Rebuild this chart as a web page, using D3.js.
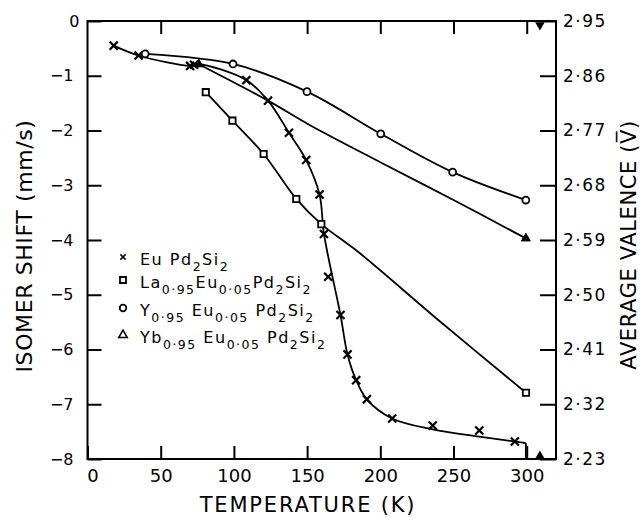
<!DOCTYPE html>
<html>
<head>
<meta charset="utf-8">
<script src="https://cdn.jsdelivr.net/npm/d3@7"></script>
<style>
body{margin:0;background:#fff}
</style>
</head>
<body>
<div id="canvas"></div>
<script>
"use strict"

// axis ticks
let tempTicks=[0,50,100,150,200,250,300]
let shiftTicks=[0,-1,-2,-3,-4,-5,-6,-7,-8]
let valenceTicks=[2.95,2.86,2.77,2.68,2.59,2.50,2.41,2.32,2.23]

// measured points [T (K), isomer shift (mm/s)]
let euPoints=[[17.9,-0.45],[34.9,-0.63],[70.1,-0.82],[72.8,-0.80],[108.5,-1.08],[123.3,-1.455],[137.6,-2.04],[149.4,-2.54],[158.5,-3.17],[161.5,-3.89],[164.4,-4.67],[172.8,-5.37],[177.6,-6.09],[183.5,-6.56],[190.8,-6.91],[208.1,-7.26],[235.8,-7.39],[267.6,-7.48],[291.9,-7.68]]
let laPoints=[[80.8,-1.30],[99,-1.82],[120.3,-2.43],[142.6,-3.25],[159.7,-3.71],[299.5,-6.79]]
let yPoints=[[39.4,-0.60],[99.4,-0.785],[149.9,-1.29],[200.3,-2.06],[249.4,-2.76],[299.4,-3.27]]
let ybPoints=[[76,-0.79],[299.4,-3.97]]

// hand drawn curves
let euCurve=[[17.9,-0.45],[34.9,-0.63],[70.1,-0.82],[76,-0.79],[108.5,-1.08],[123.3,-1.455],[137.6,-2.04],[149.4,-2.54],[158.5,-3.17],[161.5,-3.89],[172.8,-5.37],[177.6,-6.09],[183.5,-6.56],[190.8,-6.91],[208.1,-7.26],[235.8,-7.46],[267.6,-7.59],[291.9,-7.68],[299.4,-7.71]]
let euDrop=[[299.4,-7.71],[299.4,-8]]
let laCurve=[[80.8,-1.30],[99,-1.82],[120.3,-2.43],[142.6,-3.25],[159.7,-3.71],[185,-4.22],[240,-5.47],[299.5,-6.79]]
let yCurve=[[39.4,-0.60],[99.4,-0.785],[149.9,-1.29],[200.3,-2.06],[249.4,-2.76],[299.4,-3.27]]
let ybCurve=[[76,-0.79],[123.3,-1.455],[151.7,-1.9],[200,-2.58],[250,-3.27],[299.4,-3.97]]

// filled reference marks at the right edge
let refMarks=[[309,0,"down"],[309,-8,"up"]]

// legend
let legendShapes=["x","square","circle","triangle"]
let legendLabels=[
    [["Eu Pd",0],["2",1],["Si",0],["2",1]],
    [["La",0],["0·95",1],["Eu",0],["0·05",1],["Pd",0],["2",1],["Si",0],["2",1]],
    [["Y",0],["0·95",1],[" Eu",0],["0·05",1],[" Pd",0],["2",1],["Si",0],["2",1]],
    [["Yb",0],["0·95",1],[" Eu",0],["0·05",1],[" Pd",0],["2",1],["Si",0],["2",1]]
]

let svgWidth=642
let svgHeight=518
let font="DejaVu Sans"

let drawing=d3.select("#canvas")
    .append("svg")
    .attr("width",svgWidth)
    .attr("height",svgHeight)
    .style("font-family",font)

let x=d3.scaleLinear().domain([0,320]).range([87.5,556])
let y=d3.scaleLinear().domain([0,-8]).range([21,459])
let yVal=d3.scaleLinear().domain([2.95,2.23]).range([21,459])

function styleAxis(g,size){
    g.select(".domain").remove()
    g.selectAll(".tick line").attr("stroke","black").attr("stroke-width",2)
    g.selectAll(".tick text").attr("fill","black").style("font-size",size+"px").style("font-family",font)
}

let leftAxis=drawing.append("g")
    .attr("transform","translate(87.5,0)")
    .call(d3.axisLeft(y).tickValues(shiftTicks).tickSize(-14).tickPadding(14)
        .tickFormat(d=>d===0?"0":"−"+Math.abs(d)))
styleAxis(leftAxis,16)
leftAxis.selectAll(".tick text").filter(d=>d===0).attr("x",-8)

let bottomAxis=drawing.append("g")
    .attr("transform","translate(0,459)")
    .call(d3.axisBottom(x).tickValues(tempTicks).tickSize(-13).tickPadding(10))
styleAxis(bottomAxis,18)
bottomAxis.selectAll(".tick text").filter(d=>d===0).attr("x",5)

let topAxis=drawing.append("g")
    .attr("transform","translate(0,21)")
    .call(d3.axisTop(x).tickValues(tempTicks.slice(1)).tickSize(-13).tickFormat(""))
styleAxis(topAxis,10)

let rightAxis=drawing.append("g")
    .attr("transform","translate(556,0)")
    .call(d3.axisRight(yVal).tickValues(valenceTicks).tickSize(-16).tickPadding(7)
        .tickFormat(d=>d3.format(".2f")(d).replace(".","·")))
styleAxis(rightAxis,17)
rightAxis.selectAll(".tick text").style("letter-spacing","1.5px")

let frame=drawing.append("rect")
    .attr("x",87.5)
    .attr("y",21)
    .attr("width",556-87.5)
    .attr("height",459-21)
    .attr("fill","none")
    .attr("stroke","black")
    .attr("stroke-width",2)

// curves
let smooth=d3.line().x(d=>x(d[0])).y(d=>y(d[1])).curve(d3.curveCatmullRom.alpha(0.5))
let straight=d3.line().x(d=>x(d[0])).y(d=>y(d[1]))

let curves=[[euCurve,smooth],[euDrop,straight],[laCurve,smooth],[yCurve,smooth],[ybCurve,smooth]]
curves.forEach(c=>{
    drawing.append("path")
        .attr("d",c[1](c[0]))
        .attr("fill","none")
        .attr("stroke","black")
        .attr("stroke-width",1.8)
})

// markers
function marker(g,shape,cx,cy,scale){
    let s=scale||1
    if(shape==="x"){
        g.append("path")
            .attr("transform",`translate(${cx},${cy})`)
            .attr("d",d3.symbol().type(d3.symbolTimes).size(44*s)())
            .attr("fill","none").attr("stroke","black").attr("stroke-width",2.2*Math.sqrt(s))
    }else if(shape==="square"){
        g.append("path")
            .attr("transform",`translate(${cx},${cy})`)
            .attr("d",d3.symbol().type(d3.symbolSquare).size(40*s)())
            .attr("fill","white").attr("stroke","black").attr("stroke-width",1.8)
    }else if(shape==="circle"){
        g.append("path")
            .attr("transform",`translate(${cx},${cy})`)
            .attr("d",d3.symbol().type(d3.symbolCircle).size(38*s)())
            .attr("fill","white").attr("stroke","black").attr("stroke-width",1.8)
    }else if(shape==="triangle"){
        g.append("path")
            .attr("transform",`translate(${cx},${cy})`)
            .attr("d",d3.symbol().type(d3.symbolTriangle).size(34*s)())
            .attr("fill","white").attr("stroke","black").attr("stroke-width",1.6)
    }else if(shape==="solidtri"){
        g.append("path")
            .attr("transform",`translate(${cx},${cy})`)
            .attr("d",d3.symbol().type(d3.symbolTriangle).size(34*s)())
            .attr("fill","black").attr("stroke","black").attr("stroke-width",1)
    }
}

let marks=drawing.append("g")
euPoints.forEach(p=>marker(marks,"x",x(p[0]),y(p[1])))
laPoints.forEach(p=>marker(marks,"square",x(p[0]),y(p[1])))
yPoints.forEach(p=>marker(marks,"circle",x(p[0]),y(p[1])))
ybPoints.forEach(p=>marker(marks,"solidtri",x(p[0]),y(p[1])))

refMarks.forEach(p=>{
    drawing.append("path")
        .attr("transform",`translate(${x(p[0])},${y(p[1])+(p[2]==="down"?4:-3)}) rotate(${p[2]==="down"?180:0})`)
        .attr("d",d3.symbol().type(d3.symbolTriangle).size(40)())
        .attr("fill","black")
})

// legend
let legendBase=[265,288,316,343]
let legend=drawing.append("g")
legendLabels.forEach((parts,i)=>{
    marker(legend,legendShapes[i],123,legendBase[i]-8,legendShapes[i]==="x"?0.45:0.9)
    let t=legend.append("text")
        .attr("x",140)
        .attr("y",legendBase[i])
        .style("font-size","16px")
        .style("letter-spacing","1.5px")
    let level=0
    parts.forEach(p=>{
        let shift=(p[1]-level)*6
        level=p[1]
        t.append("tspan")
            .attr("dy",shift)
            .style("font-size",p[1]?"12.5px":"16px")
            .style("white-space","pre")
            .text(p[0])
    })
})

// axis titles
drawing.append("text")
    .attr("x",308)
    .attr("y",512)
    .attr("text-anchor","middle")
    .style("font-size","21px")
    .style("letter-spacing","1.8px")
    .text("TEMPERATURE (K)")

drawing.append("text")
    .attr("transform","translate(32,246) rotate(-90)")
    .attr("text-anchor","middle")
    .style("font-size","22px")
    .style("letter-spacing","0.6px")
    .text("ISOMER SHIFT (mm/s)")

drawing.append("text")
    .attr("transform","translate(636,245) rotate(-90)")
    .attr("text-anchor","middle")
    .style("font-size","21px")
    .style("letter-spacing","0.6px")
    .text("AVERAGE VALENCE (V\u0305)")
</script>
</body>
</html>
